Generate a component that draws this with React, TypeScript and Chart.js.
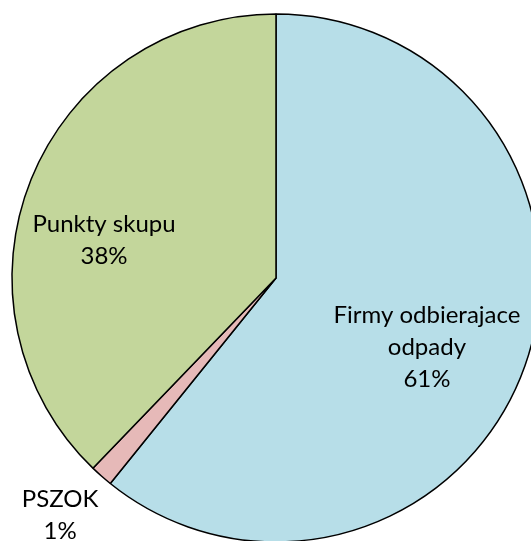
import React, { useEffect, useRef } from "react";
import { Chart, registerables } from "chart.js";

Chart.register(...registerables);

const categories: string[][] = [["Firmy odbierajace", "odpady"], ["PSZOK"], ["Punkty skupu"]];
const values: number[] = [60.8, 1.4, 37.8];
const percentLabels: string[] = ["61%", "1%", "38%"];
const colors: string[] = ["#B7DEE8", "#E6B9B8", "#C3D69B"];

// label placement: radial fraction of outer radius and angle nudge (degrees)
const labelRadial = [0.629, 1.215, 0.667];
const labelNudge = [5.2, 0.9, -9.5];

const FONT_FAMILY = "Lato, 'Open Sans', sans-serif";
const FONT_SIZE = 24;
const LINE_H = 32;

const labelPlugin = {
  id: "sliceLabels",
  afterDatasetsDraw(chart: any) {
    const ctx = chart.ctx;
    const meta = chart.getDatasetMeta(0);
    ctx.save();
    ctx.font = `${FONT_SIZE}px ${FONT_FAMILY}`;
    ctx.fillStyle = "#000";
    ctx.textAlign = "center";
    ctx.textBaseline = "middle";
    meta.data.forEach((arc: any, i: number) => {
      const p = arc.getProps(["x", "y", "startAngle", "endAngle", "outerRadius"], true);
      const mid = (p.startAngle + p.endAngle) / 2 + (labelNudge[i] * Math.PI) / 180;
      const r = p.outerRadius * labelRadial[i];
      const cx = p.x + Math.cos(mid) * r;
      const cy = p.y + Math.sin(mid) * r;
      const lines = [...categories[i], percentLabels[i]];
      const top = cy - ((lines.length - 1) * LINE_H) / 2;
      lines.forEach((t, k) => ctx.fillText(t, cx, top + k * LINE_H));
    });
    ctx.restore();
  },
};

export default function App() {
  const ref = useRef<HTMLCanvasElement>(null);
  useEffect(() => {
    if (!ref.current) return;
    const chart = new Chart(ref.current, {
      type: "pie",
      data: {
        labels: categories,
        datasets: [
          {
            data: values,
            backgroundColor: colors,
            borderColor: "#000000",
            borderWidth: 1.5,
          },
        ],
      },
      options: {
        animation: false,
        responsive: true,
        maintainAspectRatio: false,
        events: [],
        layout: { padding: { left: 11.25, right: 11.25, top: 13.25, bottom: 13.25 } },
        plugins: { legend: { display: false }, tooltip: { enabled: false } },
      },
      plugins: [labelPlugin],
    });
    return () => chart.destroy();
  }, []);
  return (
    <div style={{ position: "fixed", left: 0, top: 0, width: "100vw", height: "100vh", overflow: "hidden", background: "#fff" }}>
      <div style={{ position: "absolute", left: 0, top: 0, width: 552, height: 556 }}>
        <canvas ref={ref} />
      </div>
    </div>
  );
}
